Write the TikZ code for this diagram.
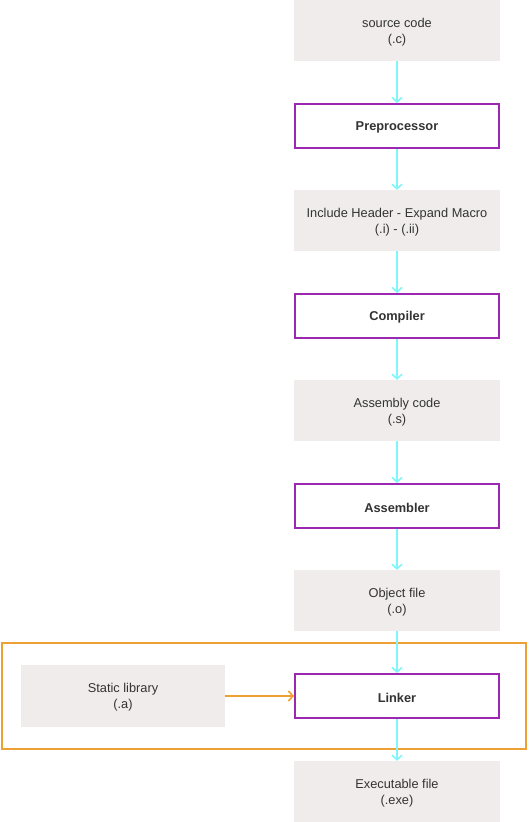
\documentclass[tikz,border=0pt]{standalone}
\usepackage{fontspec}
\setmainfont{Liberation Sans}
\usetikzlibrary{arrows.meta}
\definecolor{boxgray}{HTML}{F0ECEB}
\definecolor{purp}{HTML}{9C27B0}
\definecolor{cyanarr}{HTML}{80F6F8}
\definecolor{orng}{HTML}{EDA135}
\definecolor{txt}{HTML}{333333}
\tikzset{
  filebox/.style={fill=boxgray, draw=none, minimum width=206pt, minimum height=61pt, inner sep=0pt},
  toolbox/.style={draw=purp, line width=2pt, fill=white, minimum width=204pt, minimum height=44pt, inner sep=0pt},
  filetext/.style={align=center, font=\fontsize{12.8}{16}\selectfont, text=txt, inner sep=0pt, yshift=-1.5pt},
  tooltext/.style={align=center, font=\fontsize{12.8}{16}\selectfont\bfseries, text=txt, inner sep=0pt, yshift=-1.5pt},
  flow/.style={draw=cyanarr, line width=2pt, -{Straight Barb[length=4.5pt,width=10pt,line width=1.6pt]}},
  libarrow/.style={draw=orng, line width=2pt, -{Straight Barb[length=4.5pt,width=10pt,line width=1.6pt]}},
}
\begin{document}
\begin{tikzpicture}[x=1pt,y=-1pt]
\useasboundingbox (0,0) rectangle (528,822);
\draw[orng, line width=2pt] (2,643) rectangle (526,749);
\node[filebox, label={[filetext]center:source code\\(.c)}] (src) at (397,30.5) {};
\node[toolbox, label={[tooltext]center:Preprocessor}] (pre) at (397,126) {};
\node[filebox, label={[filetext]center:Include Header - Expand Macro\\(.i) - (.ii)}] (inc) at (397,220.5) {};
\node[toolbox, label={[tooltext]center:Compiler}] (comp) at (397,316) {};
\node[filebox, label={[filetext]center:Assembly code\\(.s)}] (asm) at (397,410.5) {};
\node[toolbox, label={[tooltext]center:Assembler}] (asmr) at (397,506) {};
\node[filebox, label={[filetext]center:Object file\\(.o)}] (obj) at (397,600.5) {};
\node[toolbox, label={[tooltext]center:Linker}] (lnk) at (397,696) {};
\node[filebox, label={[filetext]center:Executable file\\(.exe)}] (exe) at (397,791.5) {};
\node[filebox, minimum width=204pt, minimum height=62pt, label={[filetext]center:Static library\\(.a)}] (lib) at (123,696) {};
\draw[flow] (src) -- (pre);
\draw[flow] (pre) -- (inc);
\draw[flow] (inc) -- (comp);
\draw[flow] (comp) -- (asm);
\draw[flow] (asm) -- (asmr);
\draw[flow] (asmr) -- (obj);
\draw[flow] (obj) -- (lnk);
\draw[flow] (lnk) -- (exe);
\draw[libarrow] (lib) -- (lnk);
\end{tikzpicture}
\end{document}
